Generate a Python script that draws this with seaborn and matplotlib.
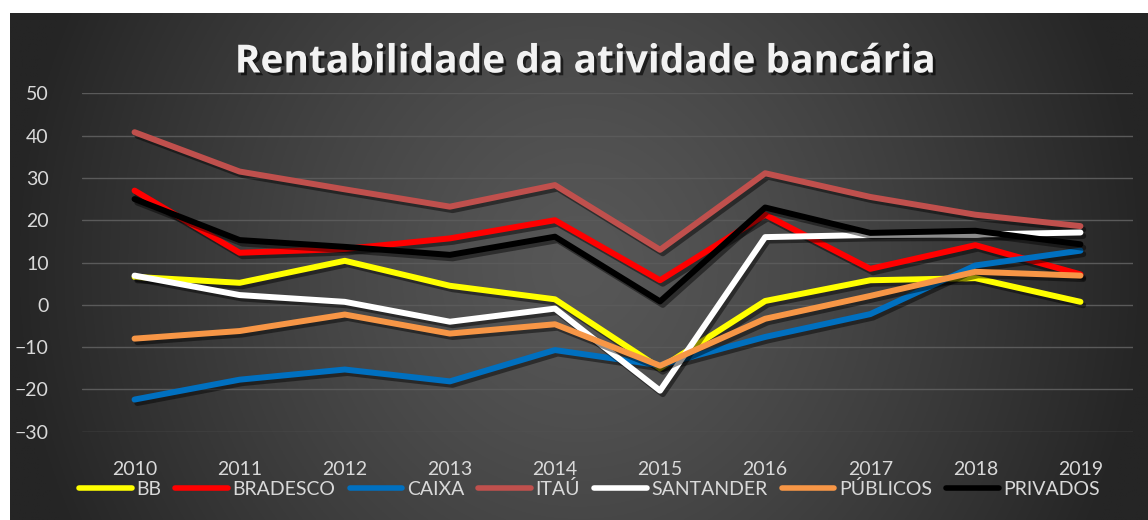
import numpy as np
import pandas as pd
import matplotlib
matplotlib.use('Agg')
import matplotlib.pyplot as plt
import matplotlib.patheffects as pe
from matplotlib.lines import Line2D
import seaborn as sns

# dados
anos = [2010, 2011, 2012, 2013, 2014, 2015, 2016, 2017, 2018, 2019]
bb = [6.6, 5.2, 10.4, 4.5, 1.3, -15.0, 0.9, 5.8, 6.3, 0.7]
bradesco = [27.0, 12.3, 13.2, 15.7, 20.0, 5.8, 21.3, 8.5, 14.1, 7.2]
caixa = [-22.4, -17.7, -15.3, -18.1, -10.7, -14.3, -7.6, -2.2, 9.3, 12.8]
itau = [40.8, 31.5, 27.3, 23.2, 28.3, 13.0, 31.1, 25.5, 21.3, 18.6]
santander = [6.9, 2.3, 0.7, -4.0, -0.9, -20.3, 16.0, 16.5, 16.6, 17.1]
publicos = [-8.0, -6.2, -2.3, -6.8, -4.6, -14.4, -3.3, 2.1, 7.8, 6.9]
privados = [25.0, 15.3, 13.7, 11.8, 16.1, 0.8, 23.0, 17.0, 17.5, 14.3]

series = ['BB', 'BRADESCO', 'CAIXA', 'ITAU', 'SANTANDER', 'PUBLICOS', 'PRIVADOS']
rotulos = ['BB', 'BRADESCO', 'CAIXA', 'ITAÚ', 'SANTANDER', 'PÚBLICOS', 'PRIVADOS']
cores = ['#FFFF00', '#FF0000', '#0070C0', '#C0504D', '#FFFFFF', '#F79646', '#000000']
valores = [bb, bradesco, caixa, itau, santander, publicos, privados]

df = pd.concat([pd.DataFrame({'ano': anos, 'valor': v, 'serie': s})
                for s, v in zip(series, valores)], ignore_index=True)

sns.set_theme(style='dark')
plt.rcParams['font.family'] = ['Lato', 'DejaVu Sans']

W, H = 1148, 520
fig = plt.figure(figsize=(W / 100, H / 100), dpi=100, facecolor='white')

# fundo com gradiente radial
bg = fig.add_axes([10 / W, 0, 1 - 10 / W, (H - 13) / H])
gy, gx = np.mgrid[0:1:300j, 0:1:600j]
r = np.sqrt(((gx - 0.5) / 0.5) ** 2 + ((gy - 0.5) / 1.2) ** 2)
r = np.clip(r, 0, 1)
claro, escuro = 0x57 / 255, 0x25 / 255
img = claro + (escuro - claro) * r ** 1.3
bg.imshow(np.dstack([img, img, img]), aspect='auto', extent=[0, 1, 0, 1])
bg.axis('off')

ax = fig.add_axes([82 / W, 1 - 431.7 / H, (1133 - 82) / W, (431.7 - 93.3) / H])
ax.set_facecolor('none')

sombra = [pe.SimpleLineShadow(offset=(2, -2.5), alpha=0.45, shadow_color='black'), pe.Normal()]
sns.lineplot(data=df, x='ano', y='valor', hue='serie', hue_order=series,
             palette=cores, linewidth=4.3, legend=False, ax=ax,
             solid_capstyle='round', path_effects=sombra)

ax.set_xlim(2009.5, 2019.5)
ax.set_ylim(-30, 50)
ax.set_yticks(range(-30, 51, 10))
ax.set_xticks(anos)
ax.set_xlabel('')
ax.set_ylabel('')
ax.grid(axis='y', color='#5a5a5a', linewidth=1.0)
ax.grid(axis='x', visible=False)
ax.set_axisbelow(True)
for lado in ax.spines.values():
    lado.set_visible(False)
ax.tick_params(axis='y', colors='#D9D9D9', labelsize=14, length=0, pad=24)
ax.tick_params(axis='x', colors='#D9D9D9', labelsize=14, length=0, pad=21)

# título
fig.text(584 / W, 1 - 62 / H, 'Rentabilidade da atividade bancária',
         ha='center', va='center', fontsize=28, fontweight='bold', color='#F2F2F2',
         family=['Open Sans', 'DejaVu Sans'],
         path_effects=[pe.withSimplePatchShadow(offset=(2, -2), alpha=0.6, shadow_rgbFace='black')])

# legenda
alcas = [Line2D([0], [0], color=c, linewidth=4) for c in cores]
fig.legend(alcas, rotulos, loc='center left', bbox_to_anchor=(79 / W, 1 - 489 / H),
           ncol=7, frameon=False, fontsize=14, labelcolor='#D9D9D9',
           handlelength=2.7, handletextpad=0.25, columnspacing=0.72,
           borderpad=0, borderaxespad=0)

fig.savefig('out.png', dpi=100, facecolor='white')
